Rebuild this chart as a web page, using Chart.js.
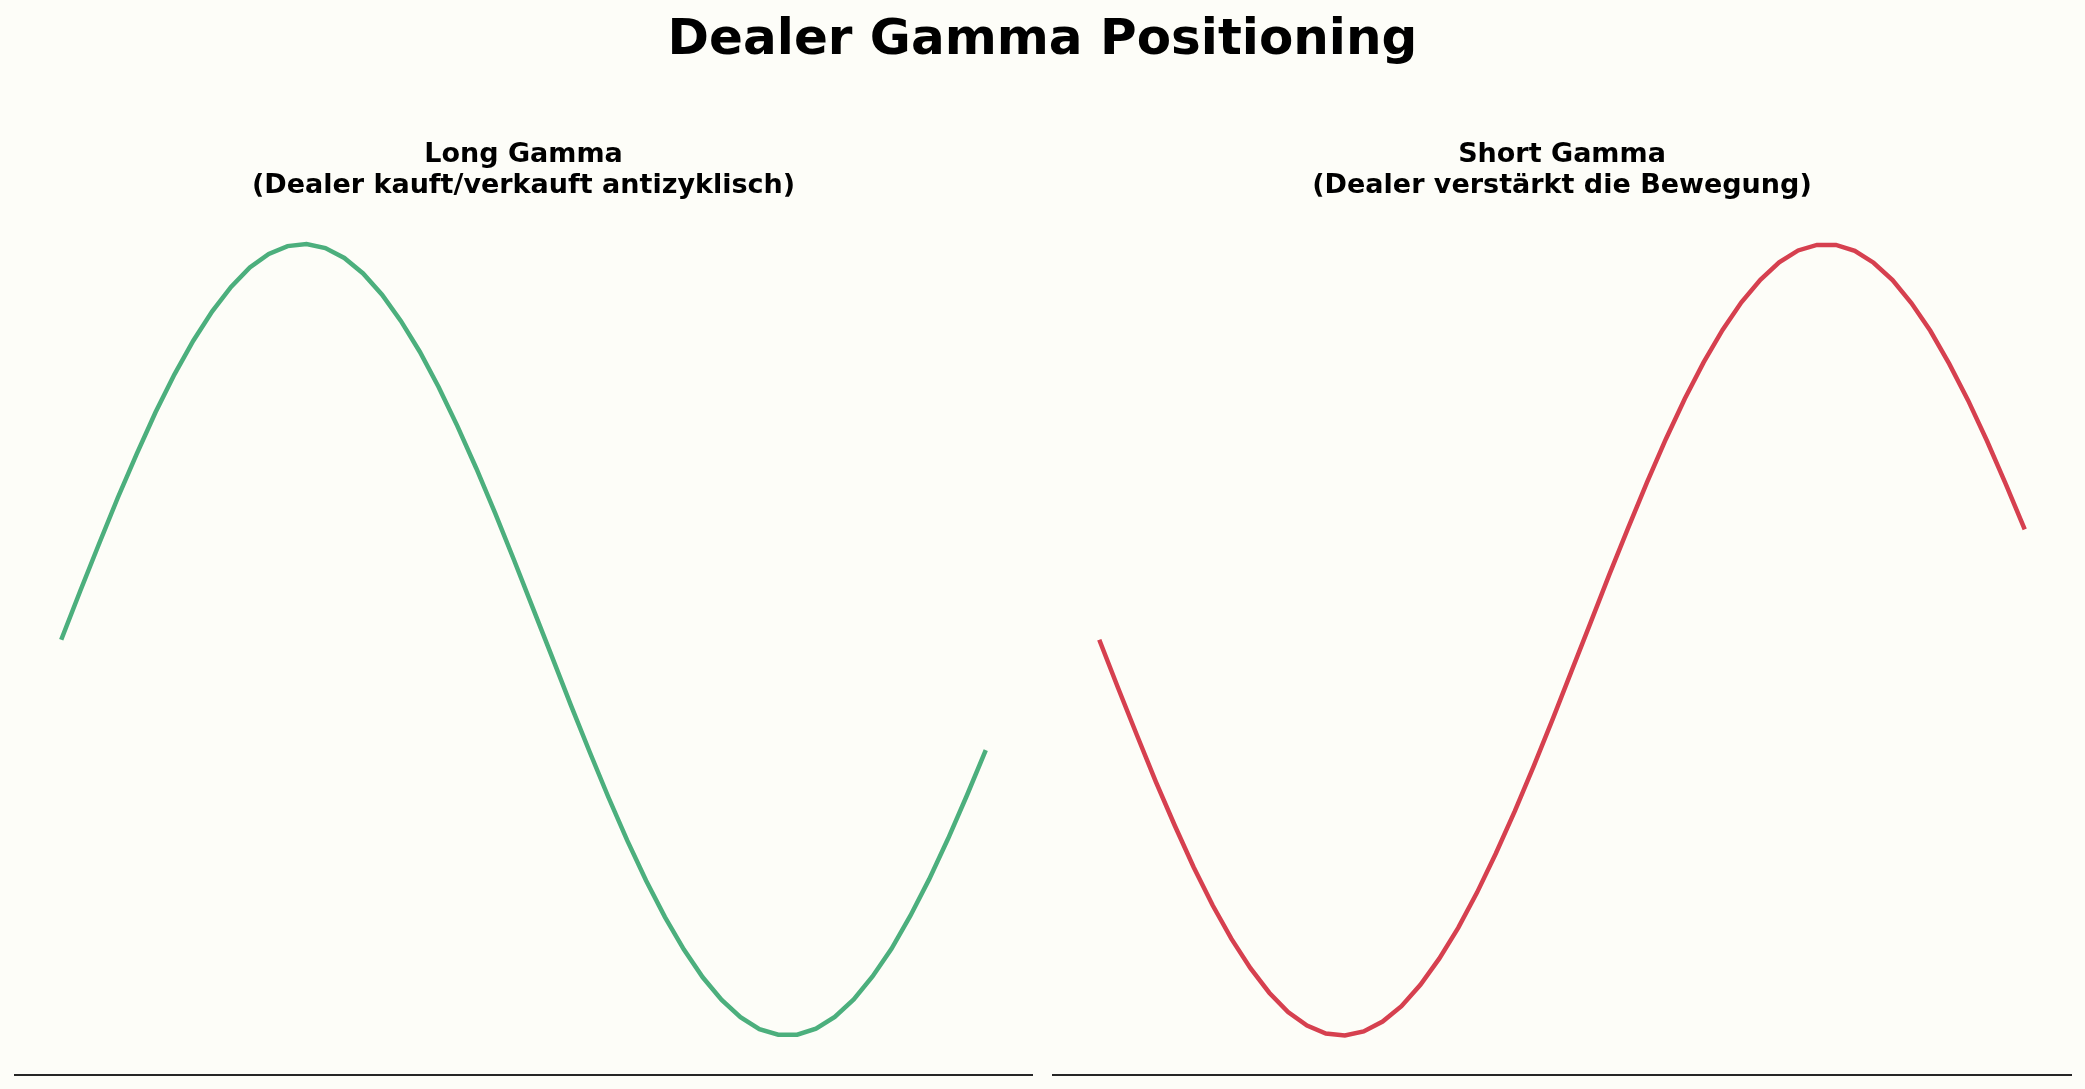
<!DOCTYPE html>
<html>
<head>
<meta charset="utf-8">
<script src="https://cdn.jsdelivr.net/npm/chart.js@4"></script>
<style>
  html, body { margin: 0; padding: 0; background: #fdfdf8; }
  body { width: 2085px; height: 1089px; position: relative; overflow: hidden; font-family: "DejaVu Sans", sans-serif; }
  #mainTitle { position: absolute; left: 0; width: 2085px; top: 8px; text-align: center; font-weight: bold; font-size: 50px; color: #000; line-height: 58px; }
  .box { position: absolute; top: 0; height: 1089px; }
  #boxLeft { left: 0; width: 1046px; }
  #boxRight { left: 1039px; width: 1046px; }
</style>
</head>
<body>
<div id="mainTitle">Dealer Gamma Positioning</div>
<div class="box" id="boxLeft"><canvas id="chartLeft"></canvas></div>
<div class="box" id="boxRight"><canvas id="chartRight"></canvas></div>
<script>
// Preiswege (normiert), 50 Stützpunkte
const xValues = [0, 0.122, 0.245, 0.367, 0.490, 0.612, 0.735, 0.857, 0.980, 1.102,
    1.224, 1.347, 1.469, 1.592, 1.714, 1.837, 1.959, 2.082, 2.204, 2.327,
    2.449, 2.571, 2.694, 2.816, 2.939, 3.061, 3.184, 3.306, 3.429, 3.551,
    3.673, 3.796, 3.918, 4.041, 4.163, 4.286, 4.408, 4.531, 4.653, 4.776,
    4.898, 5.020, 5.143, 5.265, 5.388, 5.510, 5.633, 5.755, 5.878, 6.000];

const longGamma = [0, 0.122, 0.242, 0.359, 0.470, 0.575, 0.671, 0.756, 0.830, 0.892,
    0.941, 0.975, 0.995, 1.000, 0.990, 0.965, 0.926, 0.872, 0.806, 0.728,
    0.639, 0.540, 0.433, 0.320, 0.201, 0.080, -0.042, -0.164, -0.283, -0.398,
    -0.507, -0.609, -0.701, -0.783, -0.853, -0.910, -0.954, -0.984, -0.998, -0.998,
    -0.983, -0.953, -0.909, -0.851, -0.781, -0.698, -0.605, -0.503, -0.393, -0.279];

const shortGamma = [0, -0.122, -0.242, -0.359, -0.470, -0.575, -0.671, -0.756, -0.830, -0.892,
    -0.941, -0.975, -0.995, -1.000, -0.990, -0.965, -0.926, -0.872, -0.806, -0.728,
    -0.639, -0.540, -0.433, -0.320, -0.201, -0.080, 0.042, 0.164, 0.283, 0.398,
    0.507, 0.609, 0.701, 0.783, 0.853, 0.910, 0.954, 0.984, 0.998, 0.998,
    0.983, 0.953, 0.909, 0.851, 0.781, 0.698, 0.605, 0.503, 0.393, 0.279];

const titles = [
    ['Long Gamma', '(Dealer kauft/verkauft antizyklisch)'],
    ['Short Gamma', '(Dealer verstärkt die Bewegung)']
];

function makeChart(id, values, color, title, padLeft, padRight) {
    const ctx = document.getElementById(id).getContext('2d');
    return new Chart(ctx, {
        type: 'line',
        data: {
            datasets: [{
                data: xValues.map((x, i) => ({ x: x, y: values[i] })),
                borderColor: color,
                borderWidth: 4.5,
                pointRadius: 0,
                tension: 0,
                fill: false
            }]
        },
        options: {
            responsive: true,
            maintainAspectRatio: false,
            animation: false,
            devicePixelRatio: 1,
            layout: { padding: { left: padLeft, right: padRight, top: 0, bottom: 14 } },
            plugins: {
                legend: { display: false },
                tooltip: { enabled: false },
                title: {
                    display: true,
                    text: title,
                    color: '#000',
                    font: { family: 'DejaVu Sans', size: 27, weight: 'bold', lineHeight: 1.14 },
                    padding: { top: 140, bottom: 3 }
                }
            },
            scales: {
                x: {
                    type: 'linear',
                    min: -0.3,
                    max: 6.3,
                    ticks: { display: false },
                    grid: { display: false, drawTicks: false },
                    border: { display: true, color: '#262626', width: 2 }
                },
                y: {
                    display: false,
                    min: -1.1,
                    max: 1.1
                }
            }
        }
    });
}

makeChart('chartLeft', longGamma, '#4caf7d', titles[0], 15, 14);
makeChart('chartRight', shortGamma, '#d6404f', titles[1], 14, 14);
</script>
</body>
</html>
